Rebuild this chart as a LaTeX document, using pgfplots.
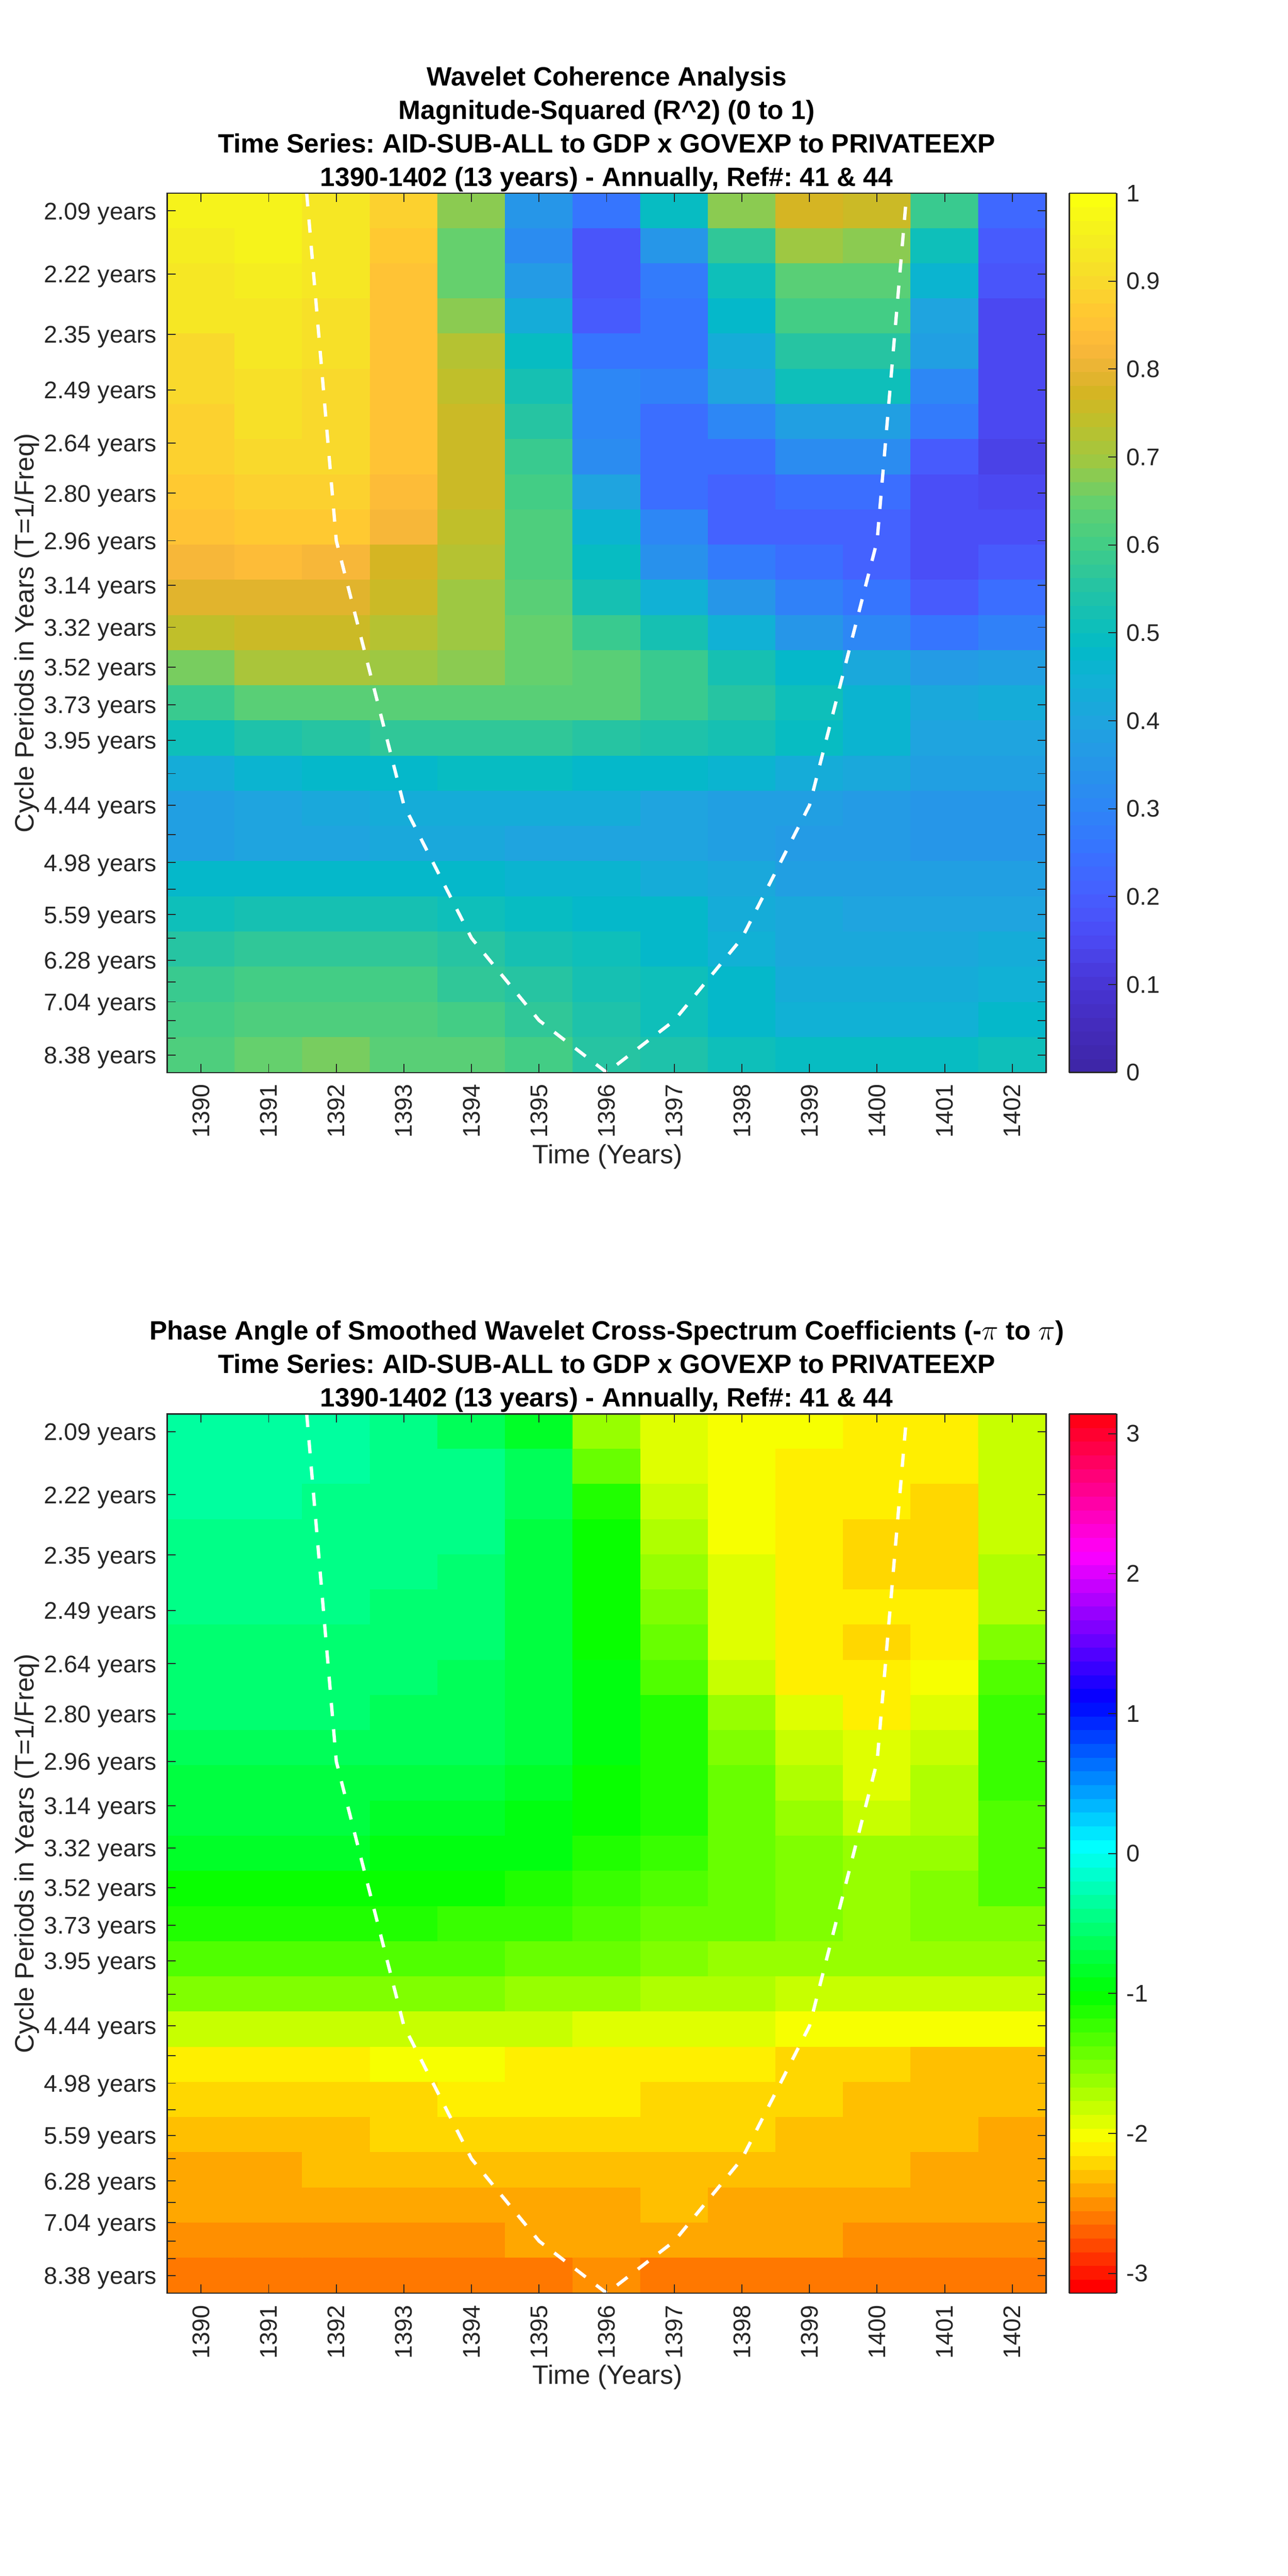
\documentclass[border=0pt]{standalone}
\usepackage{fontspec}
\setmainfont{Liberation Sans}
\usepackage{pgfplots}
\pgfplotsset{compat=1.18}
\usetikzlibrary{pgfplots.colormaps}
\definecolor{axisgray}{HTML}{262626}

\pgfplotsset{
  colormap={cohbase}{
    rgb255(0)=(62,38,168) rgb255(5)=(68,44,190) rgb255(10)=(72,55,215) rgb255(15)=(75,75,245)
    rgb255(20)=(70,95,255) rgb255(25)=(55,115,255) rgb255(30)=(45,135,245) rgb255(35)=(38,150,232)
    rgb255(40)=(30,165,222) rgb255(45)=(15,178,212) rgb255(48)=(3,185,200) rgb255(50)=(10,190,190)
    rgb255(55)=(35,195,165) rgb255(60)=(65,205,135) rgb255(65)=(100,208,110) rgb255(70)=(160,200,65)
    rgb255(75)=(195,190,40) rgb255(78)=(215,180,35) rgb255(80)=(230,180,50) rgb255(83)=(250,184,58)
    rgb255(85)=(255,192,55) rgb255(87)=(255,200,50) rgb255(90)=(250,215,45) rgb255(93)=(246,228,38)
    rgb255(96)=(245,240,30) rgb255(100)=(250,255,15)},
  colormap={coh}{samples of colormap=(64 of cohbase)},
  colormap={hsvmat}{
    rgb255=(255,0,0) rgb255=(255,24,0) rgb255=(255,48,0) rgb255=(255,72,0) rgb255=(255,96,0) rgb255=(255,120,0)
    rgb255=(255,143,0) rgb255=(255,167,0) rgb255=(255,191,0) rgb255=(255,215,0) rgb255=(255,239,0)
    rgb255=(247,255,0) rgb255=(223,255,0) rgb255=(199,255,0) rgb255=(175,255,0) rgb255=(151,255,0)
    rgb255=(128,255,0) rgb255=(104,255,0) rgb255=(80,255,0) rgb255=(56,255,0) rgb255=(32,255,0) rgb255=(8,255,0)
    rgb255=(0,255,16) rgb255=(0,255,40) rgb255=(0,255,64) rgb255=(0,255,88) rgb255=(0,255,112) rgb255=(0,255,135)
    rgb255=(0,255,159) rgb255=(0,255,183) rgb255=(0,255,207) rgb255=(0,255,231) rgb255=(0,255,255)
    rgb255=(0,231,255) rgb255=(0,207,255) rgb255=(0,183,255) rgb255=(0,159,255) rgb255=(0,135,255)
    rgb255=(0,112,255) rgb255=(0,88,255) rgb255=(0,64,255) rgb255=(0,40,255) rgb255=(0,16,255)
    rgb255=(8,0,255) rgb255=(32,0,255) rgb255=(56,0,255) rgb255=(80,0,255) rgb255=(104,0,255) rgb255=(128,0,255)
    rgb255=(151,0,255) rgb255=(175,0,255) rgb255=(199,0,255) rgb255=(223,0,255) rgb255=(247,0,255)
    rgb255=(255,0,239) rgb255=(255,0,215) rgb255=(255,0,191) rgb255=(255,0,167) rgb255=(255,0,143)
    rgb255=(255,0,120) rgb255=(255,0,96) rgb255=(255,0,72) rgb255=(255,0,48) rgb255=(255,0,24)},
  wavepanel/.style={
    scale only axis, width=533.25bp, height=533.5bp,
    xmin=1389.5, xmax=1402.5, ymin=0.5, ymax=25.5, y dir=reverse,
    axis on top, enlargelimits=false,
    colormap access=piecewise constant,
    xtick={1390,...,1402},
    xticklabels={1390,1391,1392,1393,1394,1395,1396,1397,1398,1399,1400,1401,1402},
    ytick={1.00,2.80,4.51,6.09,7.60,9.03,10.38,11.64,12.84,13.97,15.04,16.05,17.00,17.90,18.74,19.53,20.29,21.01,21.68,22.31,22.92,23.49,24.02,24.52,25.00},
    yticklabels={2.09 years,2.22 years,2.35 years,2.49 years,2.64 years,2.80 years,2.96 years,3.14 years,3.32 years,3.52 years,3.73 years,3.95 years,,4.44 years,,4.98 years,,5.59 years,,6.28 years,,7.04 years,,,8.38 years},
    tick align=inside, major tick length=5.25bp,
    tick style={axisgray, line width=.6bp},
    axis line style={axisgray, line width=.75bp},
    ticklabel style={font=\fontsize{14.6bp}{16bp}\selectfont, text=axisgray},
    xticklabel style={rotate=90, anchor=east, inner xsep=7bp, inner ysep=0pt},
    yticklabel style={inner xsep=6.25bp, inner ysep=0pt, yshift=-1.7bp},
    xlabel={Time (Years)}, ylabel={Cycle Periods in Years (T=1/Freq)},
    label style={font=\fontsize{16.1bp}{18bp}\selectfont, text=axisgray},
    xlabel style={at={(axis description cs:0.5,-0.0947)}, anchor=center, xshift=.5bp, yshift=-.5bp},
    ylabel style={at={(axis description cs:-0.16,0.5)}, anchor=center},
    title style={at={(axis description cs:0.5,1)}, anchor=south, align=center, yshift=-8.5bp,
      font=\frenchspacing\fontsize{16.08bp}{20.25bp}\selectfont\bfseries, text=black},
    colorbar sampled,
  },
  cbar/.style={
    at={(1.0263,0)}, anchor=south west, scale only axis, width=28.75bp, height=533.5bp,
    samples=65, ytick pos=right, yticklabel pos=right,
    tick align=inside, major tick length=5bp,
    tick style={axisgray, line width=.6bp},
    axis line style={axisgray, line width=.75bp},
    yticklabel style={font=\fontsize{14.6bp}{16bp}\selectfont, text=axisgray, inner xsep=5.75bp},
  },
  coi/.style={white, line width=2bp, dash pattern=on 8bp off 8bp, mark=none},
}

\begin{document}
\begin{tikzpicture}
\path[use as bounding box] (0,0) rectangle (781.25bp,1563bp);

% magnitude squared coherence
\begin{axis}[wavepanel, at={(101.5bp,912.25bp)}, anchor=south west,
  colormap name=coh, point meta min=0, point meta max=1,
  title={Wavelet Coherence Analysis\\Magnitude-Squared (R\textasciicircum2) (0 to 1)\\Time Series: AID-SUB-ALL to GDP x GOVEXP to PRIVATEEXP\\1390-1402 (13 years) - Annually, Ref\#: 41 \& 44},
  colorbar style={cbar, ytick={0,0.1,...,1}, yticklabels={0,0.1,0.2,0.3,0.4,0.5,0.6,0.7,0.8,0.9,1}}]
\addplot[matrix plot*, mesh/cols=13, point meta=\thisrow{z}] table[row sep=\\,
  x expr={1390+mod(\coordindex,13)}, y expr={1+floor((\coordindex+0.5)/13)}] {
z\\
.955\\.955\\.93\\.885\\.675\\.35\\.25\\.49\\.68\\.77\\.755\\.58\\.22\\
.945\\.955\\.935\\.87\\.655\\.32\\.175\\.35\\.575\\.70\\.675\\.50\\.19\\
.935\\.95\\.93\\.855\\.65\\.37\\.175\\.27\\.50\\.635\\.63\\.465\\.175\\
.925\\.935\\.91\\.85\\.675\\.43\\.20\\.265\\.475\\.605\\.605\\.40\\.15\\
.905\\.925\\.91\\.85\\.72\\.49\\.26\\.265\\.43\\.55\\.55\\.385\\.15\\
.90\\.915\\.905\\.85\\.735\\.53\\.30\\.29\\.40\\.515\\.515\\.31\\.15\\
.89\\.915\\.895\\.85\\.75\\.56\\.31\\.245\\.31\\.39\\.39\\.27\\.15\\
.885\\.895\\.895\\.85\\.755\\.58\\.32\\.24\\.24\\.32\\.32\\.20\\.14\\
.87\\.89\\.89\\.835\\.75\\.605\\.40\\.235\\.205\\.235\\.235\\.165\\.145\\
.85\\.865\\.865\\.815\\.745\\.62\\.465\\.31\\.21\\.21\\.205\\.17\\.17\\
.815\\.835\\.815\\.78\\.73\\.62\\.49\\.34\\.27\\.235\\.215\\.17\\.20\\
.785\\.79\\.79\\.765\\.69\\.64\\.53\\.44\\.345\\.285\\.25\\.20\\.24\\
.745\\.75\\.75\\.73\\.695\\.65\\.58\\.52\\.45\\.355\\.30\\.255\\.29\\
.665\\.705\\.705\\.695\\.675\\.65\\.625\\.585\\.53\\.475\\.42\\.36\\.38\\
.585\\.635\\.635\\.635\\.635\\.635\\.625\\.585\\.555\\.51\\.46\\.415\\.425\\
.51\\.535\\.55\\.57\\.57\\.565\\.555\\.545\\.53\\.495\\.455\\.405\\.40\\
.435\\.465\\.48\\.48\\.495\\.495\\.475\\.475\\.46\\.425\\.41\\.385\\.375\\
.385\\.405\\.41\\.43\\.43\\.43\\.43\\.405\\.39\\.375\\.365\\.345\\.345\\
.375\\.40\\.40\\.41\\.41\\.405\\.40\\.395\\.375\\.36\\.36\\.345\\.345\\
.47\\.47\\.47\\.47\\.47\\.465\\.455\\.43\\.41\\.385\\.375\\.375\\.375\\
.515\\.53\\.53\\.53\\.515\\.49\\.48\\.47\\.435\\.415\\.40\\.40\\.40\\
.555\\.565\\.565\\.565\\.55\\.525\\.51\\.475\\.44\\.41\\.41\\.41\\.43\\
.585\\.605\\.605\\.60\\.57\\.56\\.53\\.50\\.47\\.43\\.43\\.43\\.45\\
.60\\.62\\.62\\.62\\.60\\.575\\.545\\.515\\.48\\.445\\.44\\.44\\.47\\
.62\\.645\\.66\\.64\\.64\\.60\\.56\\.545\\.51\\.49\\.485\\.485\\.50\\
};
\addplot[coi] coordinates {(1391,-12.2) (1392,10.38) (1393,17.90) (1394,21.68) (1395,24.02) (1396,25.5) (1397,24.02) (1398,21.68) (1399,17.90) (1400,10.38) (1401,-12.2)};
\end{axis}

% phase angle
\begin{axis}[wavepanel, at={(101.5bp,171.6bp)}, anchor=south west,
  colormap name=hsvmat, point meta min=-3.14159, point meta max=3.14159,
  title={Phase Angle of Smoothed Wavelet Cross-Spectrum Coefficients (-$\pi$ to $\pi$)\\Time Series: AID-SUB-ALL to GDP x GOVEXP to PRIVATEEXP\\1390-1402 (13 years) - Annually, Ref\#: 41 \& 44},
  colorbar style={cbar, ytick={-3,...,3}, yticklabels={-3,-2,-1,0,1,2,3}}]
\addplot[matrix plot*, mesh/cols=13, point meta=\thisrow{z}] table[row sep=\\,
  x expr={1390+mod(\coordindex,13)}, y expr={1+floor((\coordindex+0.5)/13)}] {
z\\
-.34\\-.34\\-.34\\-.44\\-.64\\-.83\\-1.62\\-1.91\\-2.01\\-2.01\\-2.11\\-2.11\\-1.82\\
-.34\\-.34\\-.34\\-.44\\-.44\\-.64\\-1.42\\-1.91\\-2.01\\-2.11\\-2.11\\-2.11\\-1.82\\
-.34\\-.34\\-.44\\-.44\\-.44\\-.64\\-1.13\\-1.82\\-2.01\\-2.11\\-2.11\\-2.21\\-1.82\\
-.44\\-.44\\-.44\\-.44\\-.44\\-.74\\-1.03\\-1.72\\-2.01\\-2.11\\-2.21\\-2.21\\-1.82\\
-.44\\-.44\\-.44\\-.44\\-.54\\-.74\\-1.03\\-1.62\\-1.91\\-2.11\\-2.21\\-2.21\\-1.72\\
-.44\\-.44\\-.44\\-.54\\-.54\\-.74\\-1.03\\-1.52\\-1.91\\-2.11\\-2.11\\-2.11\\-1.72\\
-.54\\-.54\\-.54\\-.54\\-.54\\-.74\\-1.03\\-1.42\\-1.91\\-2.11\\-2.21\\-2.11\\-1.52\\
-.54\\-.54\\-.54\\-.54\\-.64\\-.74\\-.93\\-1.33\\-1.82\\-2.11\\-2.11\\-2.01\\-1.33\\
-.54\\-.54\\-.54\\-.64\\-.64\\-.74\\-.93\\-1.13\\-1.62\\-1.91\\-2.11\\-1.91\\-1.23\\
-.64\\-.64\\-.64\\-.64\\-.64\\-.74\\-.93\\-1.13\\-1.52\\-1.82\\-1.91\\-1.82\\-1.23\\
-.74\\-.74\\-.74\\-.74\\-.74\\-.83\\-1.03\\-1.13\\-1.42\\-1.72\\-1.91\\-1.72\\-1.23\\
-.74\\-.74\\-.74\\-.83\\-.83\\-.93\\-1.03\\-1.13\\-1.42\\-1.62\\-1.82\\-1.72\\-1.33\\
-.83\\-.83\\-.83\\-.93\\-.93\\-.93\\-1.13\\-1.23\\-1.42\\-1.52\\-1.62\\-1.62\\-1.33\\
-1.03\\-1.03\\-1.03\\-1.03\\-1.03\\-1.13\\-1.23\\-1.33\\-1.42\\-1.52\\-1.62\\-1.52\\-1.33\\
-1.13\\-1.13\\-1.13\\-1.13\\-1.23\\-1.23\\-1.33\\-1.42\\-1.42\\-1.52\\-1.62\\-1.52\\-1.52\\
-1.33\\-1.33\\-1.33\\-1.33\\-1.33\\-1.42\\-1.42\\-1.52\\-1.62\\-1.62\\-1.62\\-1.62\\-1.62\\
-1.52\\-1.52\\-1.52\\-1.52\\-1.52\\-1.62\\-1.62\\-1.72\\-1.72\\-1.82\\-1.82\\-1.82\\-1.82\\
-1.82\\-1.82\\-1.82\\-1.82\\-1.82\\-1.82\\-1.91\\-1.91\\-1.91\\-2.01\\-2.01\\-2.01\\-2.01\\
-2.11\\-2.11\\-2.11\\-2.01\\-2.01\\-2.11\\-2.11\\-2.11\\-2.11\\-2.21\\-2.21\\-2.31\\-2.31\\
-2.21\\-2.21\\-2.21\\-2.21\\-2.11\\-2.11\\-2.11\\-2.21\\-2.21\\-2.21\\-2.31\\-2.31\\-2.31\\
-2.31\\-2.31\\-2.31\\-2.21\\-2.21\\-2.21\\-2.21\\-2.21\\-2.21\\-2.31\\-2.31\\-2.31\\-2.41\\
-2.41\\-2.41\\-2.31\\-2.31\\-2.31\\-2.31\\-2.31\\-2.31\\-2.31\\-2.31\\-2.31\\-2.41\\-2.41\\
-2.41\\-2.41\\-2.41\\-2.41\\-2.41\\-2.41\\-2.41\\-2.31\\-2.41\\-2.41\\-2.41\\-2.41\\-2.41\\
-2.50\\-2.50\\-2.50\\-2.50\\-2.50\\-2.41\\-2.41\\-2.41\\-2.41\\-2.41\\-2.50\\-2.50\\-2.50\\
-2.60\\-2.60\\-2.60\\-2.60\\-2.60\\-2.60\\-2.50\\-2.60\\-2.60\\-2.60\\-2.60\\-2.60\\-2.60\\
};
\addplot[coi] coordinates {(1391,-12.2) (1392,10.38) (1393,17.90) (1394,21.68) (1395,24.02) (1396,25.5) (1397,24.02) (1398,21.68) (1399,17.90) (1400,10.38) (1401,-12.2)};
\end{axis}
\end{tikzpicture}
\end{document}
